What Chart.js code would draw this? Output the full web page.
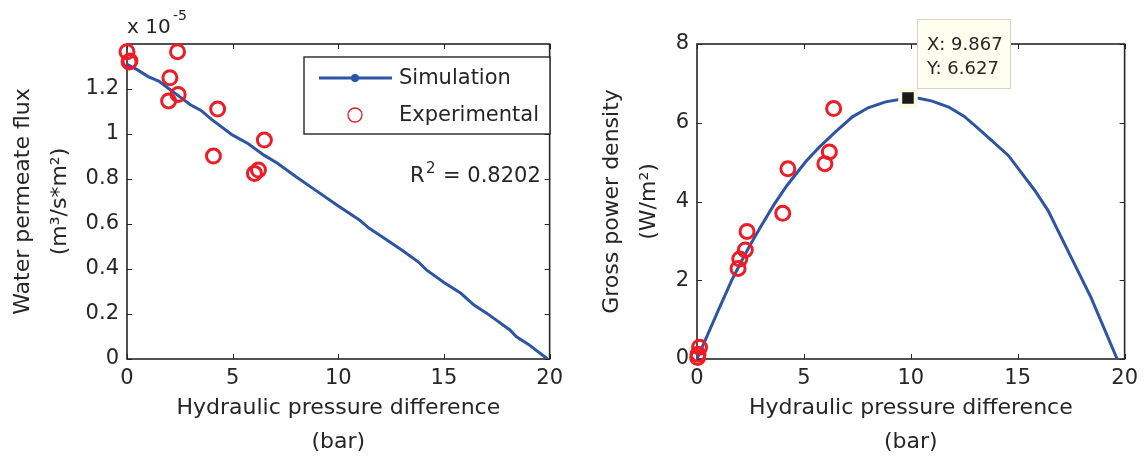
<!DOCTYPE html>
<html>
<head>
<meta charset="utf-8">
<script src="https://cdn.jsdelivr.net/npm/chart.js@4.4.0/dist/chart.umd.min.js"></script>
<style>
  body { margin: 0; background: #fff; width: 1145px; height: 457px; position: relative; overflow: hidden; }
  canvas { position: absolute; top: 0; }
  #fluxChart { left: 0; }
  #powerChart { left: 570px; }
</style>
</head>
<body>
<canvas id="fluxChart" width="570" height="457"></canvas>
<canvas id="powerChart" width="575" height="457"></canvas>
<script>
// --- data ---
// left: water permeate flux (x 1e-5 m3/s*m2) vs hydraulic pressure difference (bar)
const simFluxX = [0, 0.5, 1, 1.5, 2, 2.5, 3, 3.5, 4, 5, 5.72, 6.5, 7.12, 8, 9, 10, 11, 11.46, 12, 13, 13.78, 14.17, 15, 15.8, 16.42, 17, 18.12, 18.43, 19, 19.9];
const simFluxY = [1.31, 1.285, 1.255, 1.235, 1.2, 1.165, 1.13, 1.105, 1.065, 0.995, 0.958, 0.905, 0.87, 0.81, 0.745, 0.68, 0.618, 0.581, 0.548, 0.484, 0.432, 0.396, 0.34, 0.292, 0.24, 0.205, 0.129, 0.099, 0.065, 0.0];
const expFluxX = [0, 0.14, 0.1, 2.39, 2.03, 2.42, 1.97, 4.29, 4.09, 6.5, 6.03, 6.22];
const expFluxY = [1.366, 1.324, 1.32, 1.366, 1.25, 1.176, 1.147, 1.111, 0.902, 0.973, 0.825, 0.84];

// right: gross power density (W/m2) vs hydraulic pressure difference (bar)
const simPowerX = [0, 0.5, 1, 1.6, 2, 2.5, 3, 3.6, 4.2, 5.1, 5.72, 6.5, 7.27, 8, 8.82, 9.867, 10.37, 11, 11.77, 12.5, 13.16, 14.56, 15.8, 16.42, 17.5, 18.43, 19.65];
const simPowerY = [0, 0.62, 1.24, 1.97, 2.4, 2.91, 3.38, 3.92, 4.4, 5.02, 5.38, 5.78, 6.15, 6.38, 6.53, 6.627, 6.62, 6.55, 6.4, 6.16, 5.85, 5.17, 4.28, 3.77, 2.58, 1.56, 0.0];
const expPowerX = [0.03, 0.05, 0.12, 1.92, 2.0, 2.26, 2.34, 4.01, 4.25, 5.98, 6.19, 6.39];
const expPowerY = [0.04, 0.12, 0.30, 2.30, 2.54, 2.77, 3.24, 3.70, 4.83, 4.96, 5.26, 6.36];

// data tip on the power curve
const tipX = 9.867;
const tipY = 6.627;

const pressureTicks = [0, 5, 10, 15, 20];
const fluxTicks = [0, 0.2, 0.4, 0.6, 0.8, 1.0, 1.2];
const powerTicks = [0, 2, 4, 6, 8];

// --- style ---
const INK = '#262626';
const BLUE = '#2d55a5';
const RED = '#ee1c25';
const FONT = "'DejaVu Sans', Arial, Helvetica, sans-serif";

Chart.defaults.font.family = FONT;
Chart.defaults.color = INK;

const toPoints = (xs, ys) => xs.map((x, i) => ({ x: x, y: ys[i] }));
const fmt = v => String(Number(v.toFixed(1)));

// MATLAB-like box with inward ticks on all four sides, plus extra drawing
function matlabFrame(extra) {
  return {
    id: 'matlabFrame',
    beforeDatasetsDraw(chart) {
      const { ctx, chartArea: a, scales } = chart;
      ctx.save();
      ctx.strokeStyle = INK;
      ctx.lineWidth = 1;
      ctx.beginPath();
      scales.x.ticks.forEach(t => {
        const px = Math.round(scales.x.getPixelForValue(t.value)) + 0.5;
        ctx.moveTo(px, a.bottom); ctx.lineTo(px, a.bottom - 5);
        ctx.moveTo(px, a.top); ctx.lineTo(px, a.top + 5);
      });
      scales.y.ticks.forEach(t => {
        const py = Math.round(scales.y.getPixelForValue(t.value)) + 0.5;
        ctx.moveTo(a.left, py); ctx.lineTo(a.left + 5, py);
        ctx.moveTo(a.right, py); ctx.lineTo(a.right - 5, py);
      });
      ctx.stroke();
      ctx.lineWidth = 1.6;
      ctx.strokeRect(a.left, a.top, a.right - a.left, a.bottom - a.top);
      ctx.restore();
    },
    afterDraw(chart) {
      if (extra) extra(chart);
    }
  };
}

function axes(yTicks, yMax, yTitle, titlePadTop) {
  return {
    x: {
      type: 'linear', min: 0, max: 20,
      afterBuildTicks: s => { s.ticks = pressureTicks.map(v => ({ value: v })); },
      afterFit: s => { s.height = 98; },
      grid: { display: false, drawTicks: false },
      border: { display: false },
      ticks: { font: { size: 21 }, padding: 7, color: INK, callback: v => fmt(v) },
      title: {
        display: true, text: ['Hydraulic pressure difference', '(bar)'],
        font: { size: 22, lineHeight: '34px' }, padding: { top: 0, bottom: -2 }, color: INK
      }
    },
    y: {
      type: 'linear', min: 0, max: yMax,
      afterBuildTicks: s => { s.ticks = yTicks.map(v => ({ value: v })); },
      afterFit: s => { s.width = 127; },
      grid: { display: false, drawTicks: false },
      border: { display: false },
      ticks: { font: { size: 21 }, padding: 8, color: INK, callback: v => fmt(v) },
      title: {
        display: true, text: yTitle,
        font: { size: 22, lineHeight: '37px' }, padding: { top: titlePadTop, bottom: 0 }, color: INK
      }
    }
  };
}

// left chart: flux
new Chart(document.getElementById('fluxChart'), {
  type: 'scatter',
  data: {
    datasets: [
      {
        label: 'Experimental',
        data: toPoints(expFluxX, expFluxY),
        pointRadius: 7, pointBorderWidth: 3,
        borderColor: RED, backgroundColor: 'rgba(0,0,0,0)',
        clip: false
      },
      {
        label: 'Simulation',
        data: toPoints(simFluxX, simFluxY),
        showLine: true, pointRadius: 0, borderWidth: 3,
        borderColor: BLUE, backgroundColor: BLUE
      }
    ]
  },
  options: {
    responsive: false, animation: false, devicePixelRatio: 1,
    layout: { padding: { top: 44, right: 13, left: 0, bottom: 0 } },
    plugins: { legend: { display: false }, tooltip: { enabled: false } },
    scales: axes(fluxTicks, 1.4, ['Water permeate flux', '(m³/s*m²)'], 5)
  },
  plugins: [matlabFrame(chart => {
    const ctx = chart.ctx;
    ctx.save();
    ctx.fillStyle = INK;
    ctx.textBaseline = 'alphabetic';
    // exponent label
    ctx.font = '20px ' + FONT;
    ctx.fillText('x 10', 127, 33);
    ctx.font = '14px ' + FONT;
    ctx.fillText('-5', 173, 20);
    // R^2
    ctx.font = '21px ' + FONT;
    ctx.fillText('R', 410, 182);
    ctx.font = '15px ' + FONT;
    ctx.fillText('2', 426, 173);
    ctx.font = '21px ' + FONT;
    ctx.fillText('= 0.8202', 443, 182);
    // legend
    ctx.fillStyle = '#fff';
    ctx.fillRect(304, 57, 246, 77);
    ctx.strokeStyle = INK;
    ctx.lineWidth = 1.4;
    ctx.strokeRect(304, 57, 246, 77);
    ctx.strokeStyle = BLUE;
    ctx.lineWidth = 3;
    ctx.beginPath(); ctx.moveTo(319, 78); ctx.lineTo(392, 78); ctx.stroke();
    ctx.fillStyle = BLUE;
    ctx.beginPath(); ctx.arc(355, 78, 4, 0, Math.PI * 2); ctx.fill();
    ctx.strokeStyle = RED;
    ctx.lineWidth = 1.3;
    ctx.beginPath(); ctx.arc(355, 115, 7, 0, Math.PI * 2); ctx.stroke();
    ctx.fillStyle = INK;
    ctx.textBaseline = 'middle';
    ctx.font = '21px ' + FONT;
    ctx.fillText('Simulation', 399, 79);
    ctx.fillText('Experimental', 399, 116);
    ctx.restore();
  })]
});

// right chart: power density
new Chart(document.getElementById('powerChart'), {
  type: 'scatter',
  data: {
    datasets: [
      {
        label: 'tip',
        data: [{ x: tipX, y: tipY }],
        pointStyle: 'rect', pointRadius: 11, pointBorderWidth: 4,
        backgroundColor: '#1a1a1a', borderColor: '#fbfbe4',
        clip: false
      },
      {
        label: 'Experimental',
        data: toPoints(expPowerX, expPowerY),
        pointRadius: 7, pointBorderWidth: 3,
        borderColor: RED, backgroundColor: 'rgba(0,0,0,0)',
        clip: false
      },
      {
        label: 'Simulation',
        data: toPoints(simPowerX, simPowerY),
        showLine: true, pointRadius: 0, borderWidth: 3,
        borderColor: BLUE, backgroundColor: BLUE
      }
    ]
  },
  options: {
    responsive: false, animation: false, devicePixelRatio: 1,
    layout: { padding: { top: 44, right: 18, left: 0, bottom: 0 } },
    plugins: { legend: { display: false }, tooltip: { enabled: false } },
    scales: axes(powerTicks, 8, ['Gross power density', '(W/m²)'], 24)
  },
  plugins: [matlabFrame(chart => {
    const ctx = chart.ctx;
    const px = chart.scales.x.getPixelForValue(tipX);
    const py = chart.scales.y.getPixelForValue(tipY);
    const bx = px + 9, by = py - 79;
    ctx.save();
    ctx.fillStyle = '#ffffef';
    ctx.fillRect(bx, by, 94, 70);
    ctx.strokeStyle = '#d4d4c8';
    ctx.lineWidth = 1;
    ctx.strokeRect(bx + 0.5, by + 0.5, 93, 69);
    ctx.fillStyle = INK;
    ctx.font = '18px ' + FONT;
    ctx.textBaseline = 'alphabetic';
    ctx.fillText('X: ' + tipX.toFixed(3), bx + 10, by + 31);
    ctx.fillText('Y: ' + tipY.toFixed(3), bx + 10, by + 55);
    ctx.restore();
  })]
});
</script>
</body>
</html>
